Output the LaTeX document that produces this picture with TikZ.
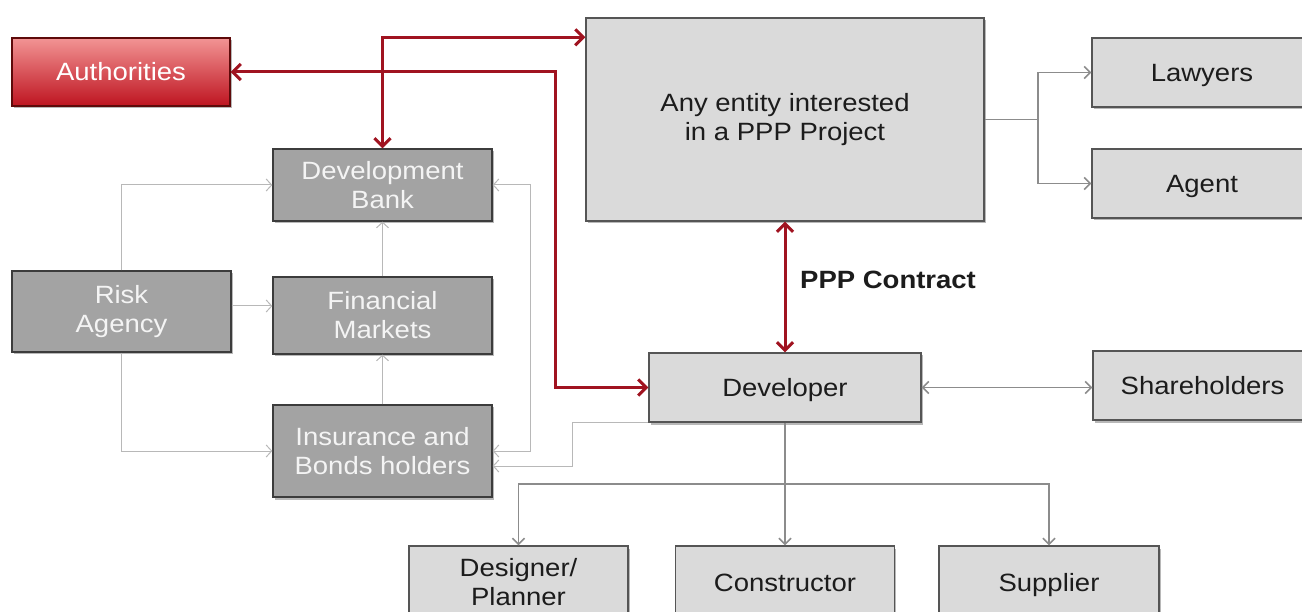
\documentclass[tikz,border=0pt]{standalone}
\usepackage{fontspec}
\setmainfont{Liberation Sans}[FakeStretch=1.1]
\usetikzlibrary{arrows.meta,shadows,calc}
\definecolor{dkfill}{HTML}{A3A3A3}
\definecolor{dkdraw}{HTML}{3C3C3C}
\definecolor{dktext}{HTML}{F4F4F4}
\definecolor{ltfill}{HTML}{DADADA}
\definecolor{ltdraw}{HTML}{555555}
\definecolor{lttext}{HTML}{1C1C1C}
\definecolor{authtop}{HTML}{F29494}
\definecolor{authbot}{HTML}{BE1420}
\definecolor{authdraw}{HTML}{5E0A0A}
\definecolor{redc}{HTML}{A01320}
\definecolor{glc}{HTML}{B8B8B8}
\definecolor{gmc}{HTML}{8C8C8C}
\begin{document}
\begin{tikzpicture}[x=1pt,y=-1pt,
  box/.style={rectangle, line width=1.3pt, align=center, inner sep=2pt,
    font=\fontsize{25}{29}\selectfont,
    drop shadow={shadow xshift=1.5pt, shadow yshift=-2.5pt, opacity=0.28, fill=black}},
  oneline/.style={text height=18pt, text depth=0pt},
  darkbox/.style={box, fill=dkfill, draw=dkdraw, text=dktext},
  lightbox/.style={box, fill=ltfill, draw=ltdraw, text=lttext},
  authbox/.style={box, top color=authtop, bottom color=authbot, draw=authdraw, text=white},
  redline/.style={draw=redc, line width=3pt, >={Straight Barb[length=8pt,width=16pt]}},
  thinline/.style={draw=glc, line width=1pt, >={Straight Barb[length=5.5pt,width=12pt]}},
  midline/.style={draw=gmc, line width=1.6pt, >={Straight Barb[length=6pt,width=12pt]}},
  lbl/.style={font=\fontsize{25}{29}\selectfont\bfseries, text=lttext, anchor=west, inner sep=0pt}
]
\useasboundingbox (0,0) rectangle (1302,612);
\begin{scope}
\clip (0,0) rectangle (1302,612);
% nodes
\node[authbox, oneline, minimum width=218pt, minimum height=68pt] (auth) at (121,72) {Authorities};
\node[darkbox, minimum width=219pt, minimum height=72pt] (devbank) at (382.5,185) {Development\\Bank};
\node[darkbox, minimum width=219pt, minimum height=81pt] (risk) at (121.5,311.5) {Risk\\Agency};
\node[darkbox, minimum width=219pt, minimum height=77pt] (fin) at (382.5,315.5) {Financial\\Markets};
\node[darkbox, minimum width=219pt, minimum height=92pt] (ins) at (382.5,451) {Insurance and\\Bonds holders};
\node[lightbox, minimum width=398pt, minimum height=203pt] (any) at (785,119.5) {Any entity interested\\in a PPP Project};
\node[lightbox, oneline, minimum width=220pt, minimum height=69pt] (lawyers) at (1202,72.5) {Lawyers};
\node[lightbox, oneline, minimum width=220pt, minimum height=69pt] (agent) at (1202,183.5) {Agent};
\node[lightbox, oneline, minimum width=272pt, minimum height=69pt] (dev) at (785,387.5) {Developer};
\node[lightbox, oneline, minimum width=219pt, minimum height=69pt] (share) at (1202.5,385.5) {Shareholders};
\node[lightbox, minimum width=219pt, minimum height=72pt] (designer) at (518.5,582) {Designer/\\Planner};
\node[lightbox, oneline, minimum width=219pt, minimum height=72pt] (constructor) at (785,582) {Constructor};
\node[lightbox, oneline, minimum width=220pt, minimum height=72pt] (supplier) at (1049,582) {Supplier};
\node[lbl] (ppp) at (800,280) {PPP Contract};
% helper coordinates
\coordinate (ra) at (555,72);
\coordinate (rf) at (0,306);
\coordinate (rl) at (530,0);
\coordinate (di) at (572,466);
\coordinate (bus) at (785,484);
\coordinate (lb) at (1038,119.5);
% red connectors
\draw[redline,<->] (devbank.north) |- (any.west |- auth.north);
\draw[redline,<->] (auth.east) -- (ra) |- (dev.west);
\draw[redline,<->] (any.south) -- (dev.north);
% thin grey connectors
\draw[thinline,->] (risk.north) |- (devbank.west);
\draw[thinline,->] (risk.south) |- (ins.west);
\draw[thinline,->] (risk.east |- rf) -- (fin.west |- rf);
\draw[thinline,->] (fin.north) -- (devbank.south);
\draw[thinline,->] (ins.north) -- (fin.south);
\draw[thinline,<->] (devbank.east) -- (devbank.east -| rl) -- (ins.east -| rl) -- (ins.east);
\draw[thinline,->] (dev.south west) -| (di) -- (di -| ins.east);
% medium grey connectors
\draw[midline] (dev.south) -- (bus);
\draw[midline,->] (bus) -| (designer.north);
\draw[midline,->] (bus) -- (constructor.north);
\draw[midline,->] (bus) -| (supplier.north);
\draw[midline,<->] (dev.east) -- (dev.east -| share.west);
\draw[midline] (any.east) -- (lb);
\draw[midline,->] (lb) |- (lawyers.west);
\draw[midline,->] (lb) |- (agent.west);
\end{scope}
\end{tikzpicture}
\end{document}
